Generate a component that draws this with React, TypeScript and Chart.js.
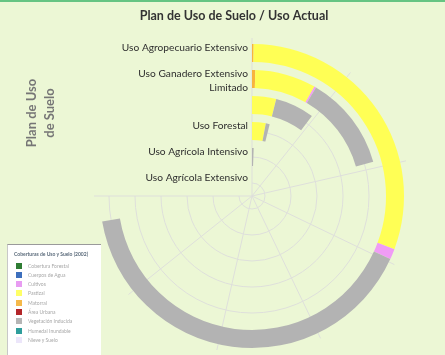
import React, { useEffect, useRef } from "react";
import { Chart, registerables } from "chart.js";

Chart.register(...registerables);

// ---------- data ----------
const TITLE = "Plan de Uso de Suelo / Uso Actual";
const AXIS_NAME = ["Plan de Uso", "de Suelo"];

// radius categories, from the outermost ring to the innermost
const categories = [
  "Uso Agropecuario Extensivo",
  "Uso Ganadero Extensivo Limitado",
  "Uso Agropecuario Intensivo",
  "Uso Forestal",
  "Uso Agrícola Intensivo",
  "Uso Agrícola Extensivo",
];

// stacked values (angle axis), same order as categories
const matorral = [16, 39, 0, 0, 0, 0];
const pastizal = [2848, 731, 364, 280, 0, 0];
const cultivos = [105, 21, 0, 0, 0, 0];
const vegInducida = [3780, 1133, 590, 78, 52, 0];

const ANGLE_MAX = 7000; // value at the end of the 270° angle axis
const ANGLE_STEP = 1000; // split line interval

const legendTitle = "Coberturas de Uso y Suelo (2002)";
const legendNames = [
  "Cobertura Forestal",
  "Cuerpos de Agua",
  "Cultivos",
  "Pastizal",
  "Matorral",
  "Área Urbana",
  "Vegetación Inducida",
  "Humedal Inundable",
  "Nieve y Suelo",
];

// ---------- styles ----------
const legendColors = [
  "#2f7d34",
  "#3d6fbd",
  "#e89cf2",
  "#ffff66",
  "#f5b94a",
  "#b3262a",
  "#b5b5b5",
  "#2f9e9c",
  "#ece6fa",
];
const BG = "#ecf7d5";
const GRID = "#dedfdb";
const COL_MATORRAL = "#f8b43c";
const COL_PASTIZAL = "#ffff55";
const COL_CULTIVOS = "#f09cf5";
const COL_VEG = "#b3b3b3";

const stackSeries = [
  { name: "Matorral", data: matorral, color: COL_MATORRAL },
  { name: "Pastizal", data: pastizal, color: COL_PASTIZAL },
  { name: "Cultivos", data: cultivos, color: COL_CULTIVOS },
  { name: "Vegetación Inducida", data: vegInducida, color: COL_VEG },
];

const BAR_W = 18;
const GAP_W = 8;
const EDGE_W = 4;

function spacer(w: number) {
  return {
    label: "",
    data: [1],
    backgroundColor: ["rgba(0,0,0,0)"],
    borderWidth: 0,
    weight: w,
    isRing: false,
  } as any;
}

function wrapText(ctx: CanvasRenderingContext2D, text: string, maxW: number) {
  const words = text.split(" ");
  const lines: string[] = [];
  let cur = "";
  words.forEach((w) => {
    const t = cur ? cur + " " + w : w;
    if (ctx.measureText(t).width > maxW && cur) {
      lines.push(cur);
      cur = w;
    } else cur = t;
  });
  if (cur) lines.push(cur);
  return lines;
}

const polarPlugin = {
  id: "polarDecor",
  beforeDatasetsDraw(chart: any) {
    const { ctx, chartArea } = chart;
    const cx = (chartArea.left + chartArea.right) / 2;
    const cy = (chartArea.top + chartArea.bottom) / 2;
    const circ = ((chart.options.circumference || 360) * Math.PI) / 180;
    const start = -Math.PI / 2;
    const outerR = chart.getDatasetMeta(0).controller.outerRadius;
    ctx.save();
    ctx.strokeStyle = GRID;
    ctx.lineWidth = 1;
    chart.data.datasets.forEach((d: any, i: number) => {
      if (!d.isRing) return;
      const c = chart.getDatasetMeta(i).controller;
      const r = (c.innerRadius + c.outerRadius) / 2;
      ctx.beginPath();
      ctx.arc(cx, cy, r, start, start + circ);
      ctx.stroke();
    });
    const n = Math.round(ANGLE_MAX / ANGLE_STEP);
    for (let k = 0; k <= n; k++) {
      const a = start + (k / n) * circ;
      ctx.beginPath();
      ctx.moveTo(cx, cy);
      ctx.lineTo(cx + Math.cos(a) * (outerR + 2), cy + Math.sin(a) * (outerR + 2));
      ctx.stroke();
    }
    ctx.restore();
  },
  afterDatasetsDraw(chart: any) {
    const { ctx, chartArea } = chart;
    const cx = (chartArea.left + chartArea.right) / 2;
    const cy = (chartArea.top + chartArea.bottom) / 2;
    ctx.save();
    // category labels
    ctx.font = "10.2px Lato";
    ctx.fillStyle = "#2e2e2e";
    ctx.textAlign = "right";
    ctx.textBaseline = "middle";
    const LH = 14;
    let lastBottom = -Infinity;
    chart.data.datasets.forEach((d: any, i: number) => {
      if (!d.isRing) return;
      const c = chart.getDatasetMeta(i).controller;
      const r = (c.innerRadius + c.outerRadius) / 2;
      const y0 = cy - r - 5;
      const lines = wrapText(ctx, d.label, 140);
      const top = y0 - LH / 2;
      const bottom = y0 + LH / 2 + LH * (lines.length - 1);
      if (top < lastBottom) return; // hide overlapping label
      lines.forEach((ln, j) => ctx.fillText(ln, cx - 4, y0 + LH * j));
      lastBottom = bottom;
    });
    // title
    ctx.font = "bold 12.5px Lato";
    ctx.fillStyle = "#333333";
    ctx.textAlign = "center";
    ctx.fillText(TITLE, 234, 16);
    // axis name (rotated)
    ctx.translate(41, 113);
    ctx.rotate(-Math.PI / 2);
    ctx.font = "bold 13px Lato";
    ctx.fillStyle = "#767676";
    AXIS_NAME.forEach((t, j) => ctx.fillText(t, 0, -9 + 18 * j));
    ctx.restore();
  },
};

export default function App() {
  const ref = useRef<HTMLCanvasElement | null>(null);
  useEffect(() => {
    if (!ref.current) return;
    const datasets: any[] = [spacer(EDGE_W)];
    categories.forEach((cat, i) => {
      if (i > 0) datasets.push(spacer(GAP_W));
      const vals = stackSeries.map((s) => s.data[i]);
      const sum = vals.reduce((a, b) => a + b, 0);
      datasets.push({
        label: cat,
        data: [...vals, ANGLE_MAX - sum],
        backgroundColor: [...stackSeries.map((s) => s.color), "rgba(0,0,0,0)"],
        borderWidth: 0,
        weight: BAR_W,
        isRing: true,
      });
    });
    datasets.push(spacer(EDGE_W));
    const chart = new Chart(ref.current, {
      type: "doughnut",
      data: {
        labels: [...stackSeries.map((s) => s.name), ""],
        datasets,
      },
      options: {
        animation: false,
        responsive: false,
        maintainAspectRatio: false,
        devicePixelRatio: 1,
        events: [],
        rotation: 0,
        circumference: 270,
        cutout: 0,
        layout: { padding: { left: 96, right: 37, top: 40, bottom: 3 } },
        plugins: {
          legend: { display: false },
          tooltip: { enabled: false },
          title: { display: false },
        },
      } as any,
      plugins: [polarPlugin],
    });
    return () => chart.destroy();
  }, []);

  return (
    <div
      style={{
        position: "fixed",
        left: 0,
        top: 0,
        width: 445,
        height: 355,
        background: BG,
        overflow: "hidden",
        fontFamily: "Lato, sans-serif",
      }}
    >
      <div style={{ position: "absolute", left: 0, top: 0, width: 445, height: 2, background: "#66c483" }} />
      <canvas ref={ref} width={445} height={355} style={{ position: "absolute", left: 0, top: 0 }} />
      <div
        style={{
          position: "absolute",
          left: 7,
          top: 244,
          width: 94,
          height: 120,
          background: "#ffffff",
          borderTop: "1px solid #9a9a9a",
          borderLeft: "1px solid #c8c8c8",
          filter: "blur(0.5px)",
          boxSizing: "border-box",
        }}
      >
        <div
          style={{
            position: "absolute",
            left: 6,
            top: 6,
            fontSize: 5,
            fontWeight: 700,
            color: "#5a6a7a",
            whiteSpace: "nowrap",
          }}
        >
          {legendTitle}
        </div>
        {legendNames.map((n, i) => (
          <div
            key={n}
            style={{ position: "absolute", left: 8, top: 17 + i * 9.3, height: 7, display: "flex", alignItems: "center" }}
          >
            <div style={{ width: 6, height: 6, background: legendColors[i] }} />
            <div style={{ marginLeft: 6, fontSize: 5, color: "#a8a8a8", whiteSpace: "nowrap" }}>{n}</div>
          </div>
        ))}
      </div>
    </div>
  );
}
